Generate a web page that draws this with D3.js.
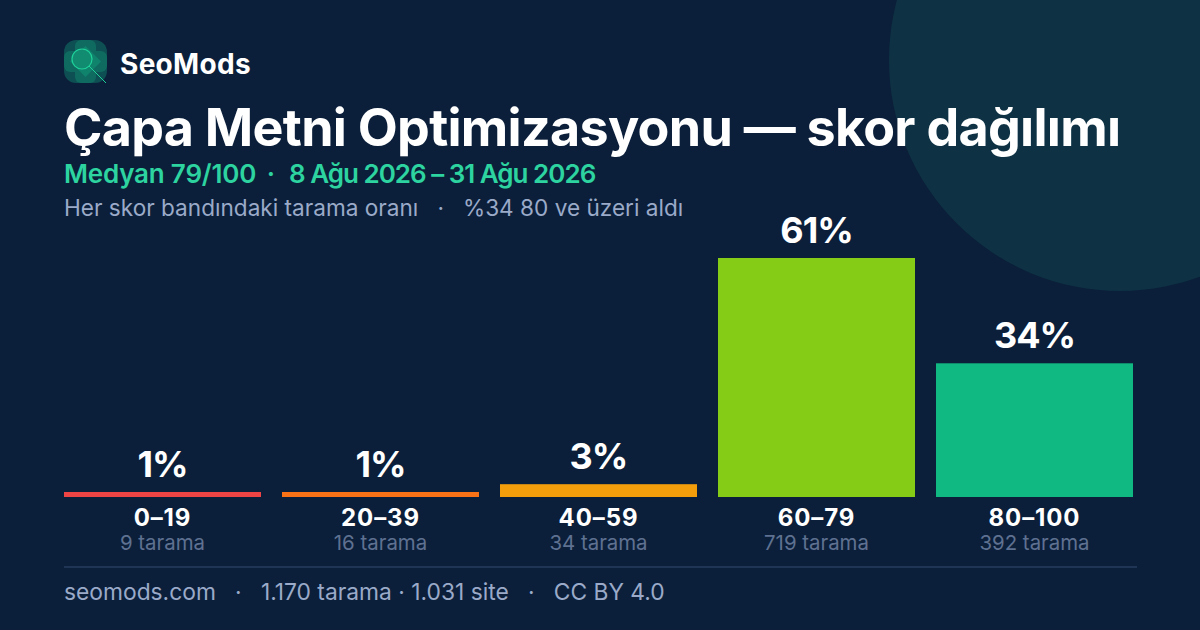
<!DOCTYPE html>
<html>
<head>
<meta charset="utf-8">
<script src="https://cdn.jsdelivr.net/npm/d3@7"></script>
<style>
html, body { margin: 0; padding: 0; background: #0b1f3a; }
svg { display: block; }
text { font-family: Inter, sans-serif; }
</style>
</head>
<body>
<div id="chart"></div>
<script>
// chart data
var bands = ["0–19", "20–39", "40–59", "60–79", "80–100"];
var shares = [1, 1, 3, 61, 34];
var scanCounts = ["9 tarama", "16 tarama", "34 tarama", "719 tarama", "392 tarama"];
var barColors = ["#ef4444", "#f97316", "#f59e0b", "#84cc16", "#10b981"];

var svgWidth = 1200;
var svgHeight = 630;

var svg = d3.select("#chart")
  .append("svg")
  .attr("width", svgWidth)
  .attr("height", svgHeight);

svg.append("rect")
  .attr("width", svgWidth)
  .attr("height", svgHeight)
  .attr("fill", "#0b1f3a");

// big circle in the corner
svg.append("circle")
  .attr("cx", 1120)
  .attr("cy", 60)
  .attr("r", 231)
  .attr("fill", "#0e3244");

// logo, soft overlapping shapes with a magnifier on top
var logo = svg.append("g").attr("transform", "translate(64, 40)");
logo.append("rect").attr("width", 43).attr("height", 43).attr("rx", 12).attr("fill", "#0d4f52");
logo.append("rect").attr("x", 11).attr("width", 21).attr("height", 43).attr("rx", 6).attr("fill", "#0f6a60");
logo.append("rect").attr("y", 11).attr("width", 43).attr("height", 21).attr("rx", 6).attr("fill", "#0f6a60");
logo.append("rect").attr("x", 10.5).attr("y", 10.5).attr("width", 22).attr("height", 22)
  .attr("transform", "rotate(45 21.5 21.5)").attr("fill", "#10836d");
logo.append("circle").attr("cx", 18).attr("cy", 19).attr("r", 10).attr("fill", "#118c70").attr("stroke", "#1fd199").attr("stroke-width", 1.2);
logo.append("line").attr("x1", 25).attr("y1", 26).attr("x2", 42).attr("y2", 43).attr("stroke", "#1fd199").attr("stroke-width", 1);

svg.append("text").attr("x", 120).attr("y", 74).attr("font-size", 28).attr("font-weight", 700)
  .attr("letter-spacing", 0.3).attr("fill", "#fff").text("SeoMods");

svg.append("text").attr("x", 64).attr("y", 146).attr("font-size", 52).attr("font-weight", 700).attr("fill", "#fff")
  .attr("letter-spacing", -0.72)
  .text("Çapa Metni Optimizasyonu — skor dağılımı");

// green subtitle, three pieces so each one lands where it should
svg.append("text").attr("x", 64).attr("y", 183).attr("font-size", 26).attr("font-weight", 600).attr("fill", "#2dd4a0")
  .attr("letter-spacing", -0.2)
  .text("Medyan 79/100");
svg.append("text").attr("x", 271).attr("y", 183).attr("font-size", 26).attr("font-weight", 600).attr("fill", "#2dd4a0")
  .attr("text-anchor", "middle")
  .text("·");
svg.append("text").attr("x", 289).attr("y", 183).attr("font-size", 26).attr("font-weight", 600).attr("fill", "#2dd4a0")
  .attr("letter-spacing", -1)
  .text("8 Ağu 2026 – 31 Ağu 2026");

svg.append("text").attr("x", 64).attr("y", 216).attr("font-size", 22.6).attr("fill", "#9aaac8")
  .attr("xml:space", "preserve")
  .text("Her skor bandındaki tarama oranı   ·   %34 80 ve üzeri aldı");

// scales
var xScale = d3.scaleBand()
  .domain(bands)
  .range([64, 1133])
  .paddingInner(21 / 218);

var yScale = d3.scaleLinear()
  .domain([0, 61])
  .range([495.9, 258]);

var baseline = 497;

svg.selectAll(".bar")
  .data(bands)
  .enter()
  .append("rect")
  .attr("class", "bar")
  .attr("x", d => xScale(d))
  .attr("y", (d, i) => yScale(shares[i]))
  .attr("width", xScale.bandwidth())
  .attr("height", (d, i) => baseline - yScale(shares[i]))
  .attr("fill", (d, i) => barColors[i]);

svg.selectAll(".share")
  .data(bands)
  .enter()
  .append("text")
  .attr("class", "share")
  .attr("x", d => xScale(d) + xScale.bandwidth() / 2)
  .attr("y", (d, i) => yScale(shares[i]) - 15)
  .attr("text-anchor", "middle")
  .attr("font-size", 36)
  .attr("font-weight", 700)
  .attr("letter-spacing", -1)
  .attr("fill", "#fff")
  .text((d, i) => shares[i] + "%");

// band labels
svg.selectAll(".band")
  .data(bands)
  .enter()
  .append("text")
  .attr("class", "band")
  .attr("x", d => xScale(d) + xScale.bandwidth() / 2)
  .attr("y", 526)
  .attr("text-anchor", "middle")
  .attr("font-size", 24)
  .attr("font-weight", 700)
  .attr("letter-spacing", 0.9)
  .attr("fill", "#fff")
  .text(d => d);

svg.selectAll(".count")
  .data(bands)
  .enter()
  .append("text")
  .attr("class", "count")
  .attr("x", d => xScale(d) + xScale.bandwidth() / 2)
  .attr("y", 550)
  .attr("text-anchor", "middle")
  .attr("font-size", 20.4)
  .attr("fill", "#5f7191")
  .text((d, i) => scanCounts[i]);

// footer
svg.append("line").attr("x1", 64).attr("x2", 1137).attr("y1", 567).attr("y2", 567).attr("stroke", "#1e3556").attr("stroke-width", 2);

svg.append("text").attr("x", 64).attr("y", 600).attr("font-size", 22.8).attr("fill", "#9aaac8")
  .attr("xml:space", "preserve")
  .text("seomods.com   ·   1.170 tarama · 1.031 site   ·   CC BY 4.0");
</script>
</body>
</html>
